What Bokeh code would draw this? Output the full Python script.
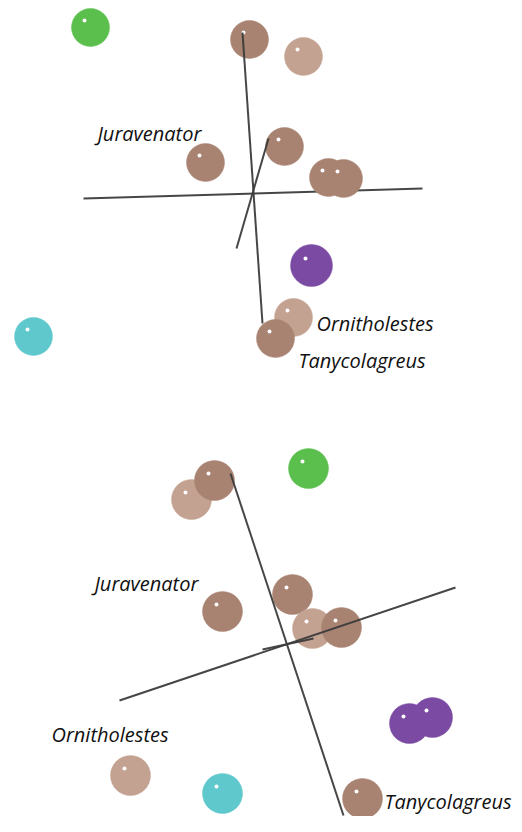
import numpy as np
from bokeh.plotting import figure
from bokeh.models import Range1d, ColumnDataSource
from bokeh.core.properties import value
from bokeh.embed import file_html
from bokeh.resources import INLINE

# ---- data (projected PCA coordinates, pixel-like units, y downward) ----
BROWN = "#a88371"
LIGHT = "#c3a292"
GREEN = "#5abf4c"
PURPLE = "#7b4ba3"
CYAN = "#5fc8cd"

# top panel spheres
top_x = [90, 249, 303, 205, 284, 328, 343, 311, 293, 275, 33]
top_y = [27, 39, 56, 162, 146, 177, 178, 265, 317, 338, 336]
top_c = [GREEN, BROWN, LIGHT, BROWN, BROWN, BROWN, BROWN, PURPLE, LIGHT, BROWN, CYAN]
top_r = [19, 19, 19, 19, 19, 19, 19, 21, 19, 19, 19]

# top panel axes (x0, y0, x1, y1)
top_axes_back = [(83, 198, 422, 188)]
top_axes_front = [(242, 32, 262, 323), (268, 138, 236, 248)]

top_labels = ["Juravenator", "Ornitholestes", "Tanycolagreus"]
top_lx = [97, 316, 298]
top_ly = [133, 323, 360]

# bottom panel spheres
bot_x = [191, 214, 308, 222, 292, 312, 341, 409, 432, 130, 222, 362]
bot_y = [499, 480, 468, 611, 594, 628, 627, 723, 717, 775, 793, 798]
bot_c = [LIGHT, BROWN, GREEN, BROWN, BROWN, LIGHT, BROWN, PURPLE, PURPLE, LIGHT, CYAN, BROWN]
bot_r = [20, 20, 20, 20, 20, 20, 20, 20, 20, 20, 20, 20]

bot_axes = [(230, 473, 343, 815), (119, 700, 455, 587), (262, 649, 313, 638)]

bot_labels = ["Juravenator", "Ornitholestes", "Tanycolagreus"]
bot_lx = [94, 51, 384]
bot_ly = [583, 734, 801]

W, H = 514, 816
p = figure(width=W, height=H, output_backend="svg", toolbar_location=None,
           x_range=Range1d(0, W), y_range=Range1d(H, 0),
           min_border=0, outline_line_color=None)
p.axis.visible = False
p.grid.visible = False
p.background_fill_color = "white"
p.border_fill_color = "white"

LINE_C = "#3c3c3c"


def draw_lines(segs):
    xs = [[s[0], s[2]] for s in segs]
    ys = [[s[1], s[3]] for s in segs]
    p.multi_line(xs, ys, line_color=LINE_C, line_width=2, line_alpha=0.95)


def draw_spheres(xs, ys, cs, rs):
    xs = np.array(xs, float)
    ys = np.array(ys, float)
    src = ColumnDataSource(dict(x=xs, y=ys, c=cs, r=rs))
    p.circle(x="x", y="y", radius="r", fill_color="c", line_color="c",
             line_width=0.8, line_alpha=0.6, source=src)
    hl = ColumnDataSource(dict(x=xs - 6, y=ys - 7))
    p.scatter(x="x", y="y", size=4, fill_color="white", line_color=None,
              source=hl)


def draw_labels(texts, xs, ys):
    src = ColumnDataSource(dict(x=xs, y=ys, t=texts))
    p.text(x="x", y="y", text="t", source=src, text_font=value("Open Sans"),
           text_font_style="italic", text_font_size="20px",
           text_color="#111111", text_align="left", text_baseline="middle")


# top panel
draw_lines(top_axes_back)
draw_spheres(top_x, top_y, top_c, top_r)
draw_lines(top_axes_front)
draw_labels(top_labels, top_lx, top_ly)

# bottom panel
draw_spheres(bot_x, bot_y, bot_c, bot_r)
draw_lines(bot_axes)
draw_labels(bot_labels, bot_lx, bot_ly)

open("out.html", "w").write(file_html(p, INLINE))
